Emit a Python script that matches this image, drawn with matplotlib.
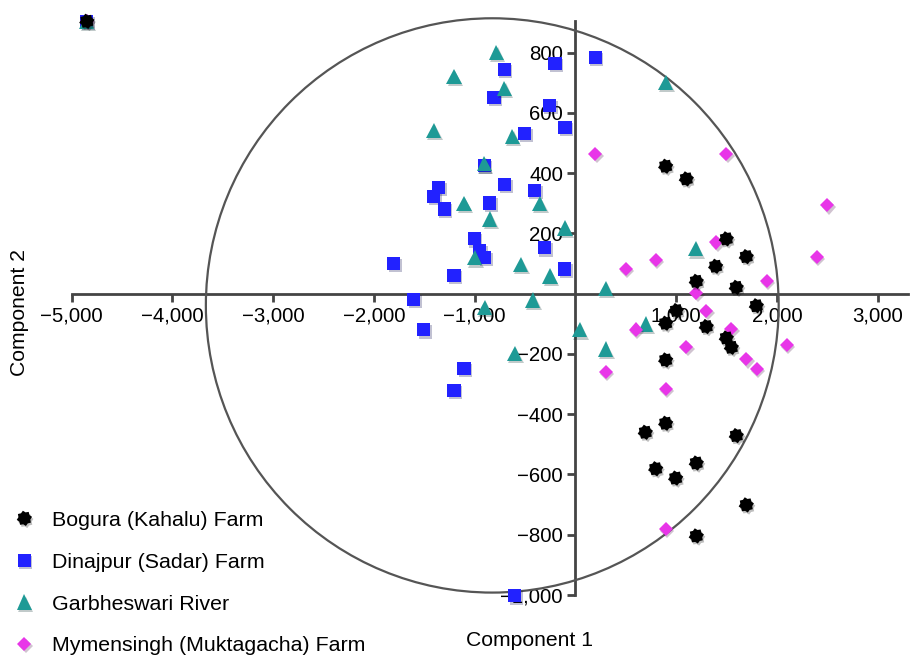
import matplotlib
matplotlib.use("Agg")
import matplotlib.pyplot as plt
from matplotlib.patches import Ellipse
from matplotlib.path import Path
from matplotlib.ticker import FuncFormatter, FixedLocator
import matplotlib.patheffects as pe
import numpy as np

plt.rcParams['font.family'] = ['Liberation Sans', 'DejaVu Sans']

series_names = ["Bogura (Kahalu) Farm", "Dinajpur (Sadar) Farm",
                "Garbheswari River", "Mymensingh (Muktagacha) Farm"]

bogura_x = [-4850, 895, 1100, 1497, 1695, 1391, 1199, 1596, 1795, 1001, 895, 1298,
            1497, 1547, 895, 693, 895, 796, 994, 1199, 1596, 1695, 1199]
bogura_y = [904, 423, 381, 182, 123, 91, 41, 21, -40, -56, -98, -109,
            -147, -178, -220, -460, -430, -581, -612, -562, -471, -701, -804]

dinajpur_x = [-4850, 197, -705, -808, -203, -256, -104, -504, -904, -1357, -1407, -1304,
              -702, -405, -851, -1003, -950, -901, -306, -107, -1804, -1205, -1605,
              -1506, -1106, -1205, -603]
dinajpur_y = [904, 783, 743, 652, 763, 625, 552, 532, 425, 353, 323, 281,
              362, 342, 301, 182, 143, 121, 152, 82, 101, 61, -18,
              -120, -249, -320, -1003]

garb_x = [-4850, -785, -1205, -705, -1407, -626, -904, 895, -1106, -355, -851, -104,
          -1000, -544, -253, -425, -901, -603, 40, 300, 696, 1192, 300]
garb_y = [904, 800, 721, 682, 542, 522, 431, 702, 300, 300, 248, 218,
          119, 96, 59, -21, -45, -198, -120, -184, -101, 149, 18]

mym_x = [-4850, 197, 1497, 2498, 2395, 1398, 796, 498, 1900, 1199, 1298, 1547,
         597, 1100, 2098, 1695, 1800, 300, 895, 895]
mym_y = [904, 463, 463, 293, 121, 170, 112, 81, 41, 2, -57, -117,
         -119, -178, -169, -218, -250, -260, -316, -781]

x_ticks = [-5000, -4000, -3000, -2000, -1000, 1000, 2000, 3000]
y_ticks = [-1000, -800, -600, -400, -200, 200, 400, 600, 800]

# 8-point gear-like star marker
ang = np.linspace(0, 2 * np.pi, 17)[:-1] + np.pi / 16
rad = np.where(np.arange(16) % 2 == 0, 1.0, 0.78)
verts = np.column_stack([rad * np.cos(ang), rad * np.sin(ang)])
verts = np.vstack([verts, verts[0]])
codes = [Path.MOVETO] + [Path.LINETO] * 15 + [Path.CLOSEPOLY]
star = Path(verts, codes)

fig = plt.figure(figsize=(9.10, 6.56), dpi=100)
ax = fig.add_axes([0.0788, 0.093, 0.9190, 0.875])
ax.set_xlim(-5000, 3300)
ax.set_ylim(-1000, 905)

axis_col = '#444444'
for s in ['top', 'right']:
    ax.spines[s].set_visible(False)
ax.spines['left'].set_position(('data', 0))
ax.spines['bottom'].set_position(('data', 0))
for s in ['left', 'bottom']:
    ax.spines[s].set_color(axis_col)
    ax.spines[s].set_linewidth(2)
    ax.spines[s].set_zorder(1)

ax.xaxis.set_major_locator(FixedLocator(x_ticks))
ax.yaxis.set_major_locator(FixedLocator(y_ticks))
fmt = FuncFormatter(lambda v, p: f"{v:,.0f}".replace('-', '\u2212'))
ax.xaxis.set_major_formatter(fmt)
ax.yaxis.set_major_formatter(fmt)
ax.tick_params(axis='both', direction='out', length=6, width=2, color=axis_col,
               labelsize=14.7, labelcolor='black', pad=3)

ell = Ellipse((-826, -39), 5685, 1906, fill=False, edgecolor='#555555',
              linewidth=1.6, clip_on=False, zorder=2)
ax.add_patch(ell)

shadow = [pe.SimplePatchShadow(offset=(1, -1.5), alpha=0.25), pe.Normal()]

kw = dict(linestyle='none', clip_on=False, path_effects=shadow)
h_blue, = ax.plot(dinajpur_x, dinajpur_y, marker='s', markersize=9.5,
                  color='#2222FF', markeredgewidth=0, zorder=3, **kw)
h_teal, = ax.plot(garb_x, garb_y, marker='^', markersize=11,
                  color='#1E9A96', markeredgewidth=0, zorder=4, **kw)
h_mag, = ax.plot(mym_x, mym_y, marker='D', markersize=7.2,
                 color='#E835E8', markeredgewidth=0, zorder=5, **kw)
h_blk, = ax.plot(bogura_x, bogura_y, marker=star, markersize=11,
                 color='black', markeredgewidth=0, zorder=6, **kw)

fig.legend([h_blk, h_blue, h_teal, h_mag], series_names,
           loc='lower left', bbox_to_anchor=(0.008, -0.009), frameon=False,
           fontsize=15.4, labelspacing=1.07, handlelength=1.0,
           handletextpad=0.8, borderpad=0.3, borderaxespad=0)

fig.text(530 / 910, 1 - 640 / 656, "Component 1", ha='center', va='center',
         fontsize=15.2)
fig.text(20 / 910, 1 - 312 / 656, "Component 2", ha='center', va='center',
         rotation=90, fontsize=15.2)

fig.savefig("out.png", dpi=100)
